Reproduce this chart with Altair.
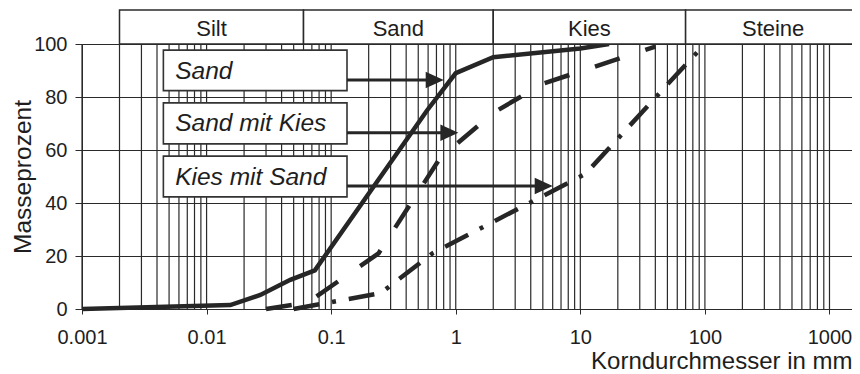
import altair as alt
import pandas as pd

# ---------------- data ----------------
sand_d = [0.001, 0.0155, 0.027, 0.047, 0.074, 0.59, 1.0, 2.0, 10.0, 17.0]
sand_p = [0, 1.5, 5.3, 11, 14.6, 75, 89, 95, 98.3, 100]

smk_d = [0.03, 0.065, 0.24, 0.75, 2.0, 5.0, 40.0]
smk_p = [0, 2.5, 21, 57, 74, 85, 99]

kms_d = [0.05, 0.25, 0.65, 11.0, 53.0, 100.0]
kms_p = [0, 6, 21, 51, 86, 100]

major_ticks = [0.001, 0.01, 0.1, 1, 10, 100, 1000]
y_ticks = [0, 20, 40, 60, 80, 100]

band_labels = ["Silt", "Sand", "Kies", "Steine"]
band_bounds = [0.002, 0.06, 2.0, 70.0, 1780.0]

box_labels = ["Sand", "Sand mit Kies", "Kies mit Sand"]
box_y_low = [82.4, 62.3, 42.3]
box_y_high = [97.7, 77.8, 57.7]
box_text_y = [86.8, 67.2, 46.8]
arrow_y = [86.4, 66.5, 46.4]
arrow_tip = [0.8, 1.05, 6.0]

# ---------------- layout / style ----------------
W, H = 770, 265
XDOM = [0.001, 1516]
GRID = "#2a2a2a"
INK = "#262626"
TXT = "#1e1e1e"
FONT = "Liberation Sans"
BOX_LEFT, BOX_RIGHT, TEXT_X = 0.0045, 0.134, 0.0056
BAND_LOW, BAND_HIGH, BAND_TEXT_Y = 100, 112.8, 103.0

xs = alt.Scale(type="log", domain=XDOM, nice=False)
ys = alt.Scale(domain=[0, 100], nice=False, zero=False)

minor = []
for e in range(-3, 3):
    for k in range(1, 10):
        minor.append(round(k * 10 ** e, 6))
minor.append(1000)

grid_df = pd.DataFrame({"x": minor, "y0": 0, "y1": 100})

x_axis = alt.Axis(values=major_ticks, format="~g", grid=False, tickSize=5,
                  tickColor=GRID, domainColor=GRID, labelFontSize=20,
                  labelColor=TXT, labelBaseline="alphabetic", labelPadding=29,
                  labelFlush=False, title="Korndurchmesser in mm",
                  titleFontSize=24, titleFontWeight="normal", titleColor=TXT,
                  titleAnchor="end", titleBaseline="alphabetic", titleY=59)
y_axis = alt.Axis(values=y_ticks, grid=True, gridColor=GRID, gridWidth=1.1,
                  tickSize=7, tickColor=GRID, domainColor=GRID,
                  labelFontSize=20, labelColor=TXT, labelPadding=8,
                  title="Masseprozent", titleFontSize=24.5,
                  titleFontWeight="normal", titleColor=TXT,
                  titleBaseline="alphabetic", titleX=-52)


def X(field):
    return alt.X(field, scale=xs, axis=x_axis)


def Y(field):
    return alt.Y(field, scale=ys, axis=y_axis)


grid = alt.Chart(grid_df).mark_rule(color=GRID, strokeWidth=1.2).encode(
    x=X("x:Q"), y=Y("y0:Q"), y2="y1:Q",
)


def curve(d, p, dash):
    df = pd.DataFrame({"x": d, "y": p, "o": list(range(len(d)))})
    kw = dict(color=INK, strokeWidth=4.5, strokeJoin="miter")
    if dash:
        kw["strokeDash"] = dash
    return alt.Chart(df).mark_line(**kw).encode(
        x=X("x:Q"), y=Y("y:Q"), order="o:Q",
    )


c_sand = curve(sand_d, sand_p, None)
c_smk = curve(smk_d, smk_p, [26, 27])
c_kms = curve(kms_d, kms_p, [26, 13, 4, 13])

# band above the plot
band_df = pd.DataFrame({
    "x": band_bounds[:-1], "x2": band_bounds[1:],
    "y": BAND_LOW, "y2": BAND_HIGH, "label": band_labels,
})
band_df["xm"] = (band_df["x"] * band_df["x2"]) ** 0.5
band_df["ty"] = BAND_TEXT_Y

band = alt.Chart(band_df).mark_rect(fill="white", stroke=GRID, strokeWidth=1.5).encode(
    x=X("x:Q"), x2="x2:Q", y=Y("y:Q"), y2="y2:Q",
)
band_text = alt.Chart(band_df).mark_text(
    fontSize=22, color=TXT, align="center", baseline="alphabetic", font=FONT
).encode(
    x=X("xm:Q"), y=Y("ty:Q"), text="label:N",
)

# label boxes with arrows
box_df = pd.DataFrame({
    "x": BOX_LEFT, "x2": BOX_RIGHT, "y": box_y_low, "y2": box_y_high,
    "label": box_labels, "tx": TEXT_X, "ty": box_text_y,
    "ay": arrow_y, "tip": arrow_tip,
})
box_df["aend"] = box_df["tip"] * 10 ** (-10 / 124.5)

boxes = alt.Chart(box_df).mark_rect(fill="white", stroke="#333333", strokeWidth=1.6).encode(
    x=X("x:Q"), x2="x2:Q", y=Y("y:Q"), y2="y2:Q",
)
box_text = alt.Chart(box_df).mark_text(
    fontSize=24.5, fontStyle="italic", color=TXT, align="left",
    baseline="alphabetic", font=FONT
).encode(
    x=X("tx:Q"), y=Y("ty:Q"), text="label:N",
)
arrow_lines = alt.Chart(box_df).mark_rule(color=INK, strokeWidth=3).encode(
    x=X("x2:Q"), x2="aend:Q", y=Y("ay:Q"),
)
arrow_heads = alt.Chart(box_df).mark_point(
    shape="M 0 0 L -1 -0.46 L -1 0.46 Z", size=1296, filled=True,
    fill=INK, strokeWidth=0, opacity=1
).encode(
    x=X("tip:Q"), y=Y("ay:Q"),
)

chart = alt.layer(
    grid, c_kms, c_smk, c_sand, band, band_text, boxes, box_text,
    arrow_lines, arrow_heads
).properties(
    width=W, height=H,
    autosize=alt.AutoSizeParams(type="none"),
    padding={"left": 74, "top": 36, "right": 0, "bottom": 63},
).configure(font=FONT).configure_view(stroke=None)

chart.save("out.html", embed_options={"renderer": "svg", "actions": False})
